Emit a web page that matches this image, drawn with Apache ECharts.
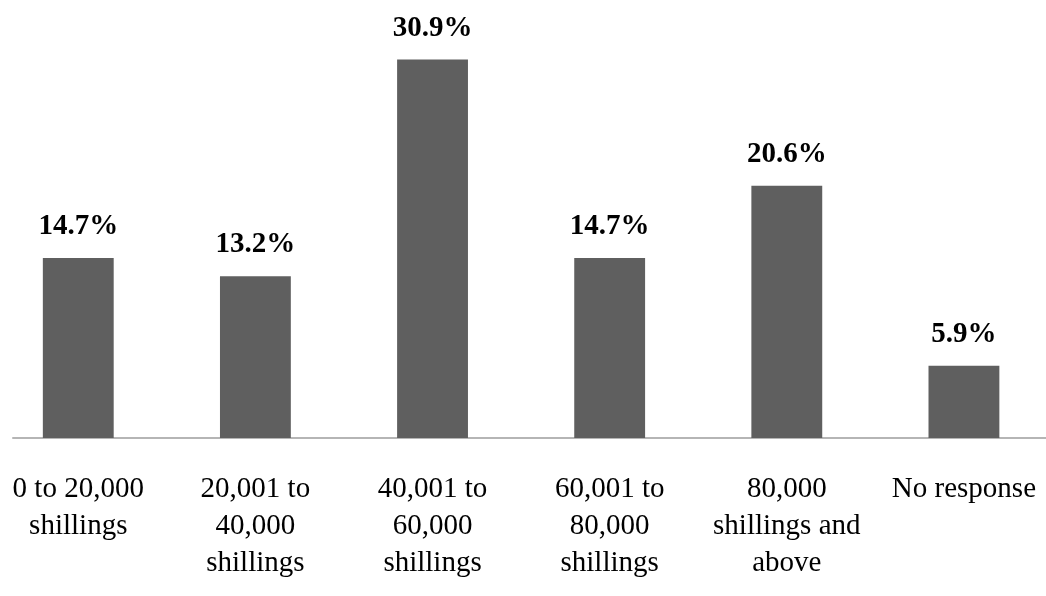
<!DOCTYPE html>
<html>
<head>
<meta charset="utf-8">
<script src="https://cdn.jsdelivr.net/npm/echarts@6/dist/echarts.min.js"></script>
<style>
html,body{margin:0;padding:0;background:#fff;}
#chart{width:1046px;height:596px;}
</style>
</head>
<body>
<div id="chart"></div>
<script>
const categories = ["0 to 20,000 shillings", "20,001 to 40,000 shillings", "40,001 to 60,000 shillings", "60,001 to 80,000 shillings", "80,000 shillings and above", "No response"];
const tickLabels = ["0 to 20,000\nshillings", "20,001 to\n40,000\nshillings", "40,001 to\n60,000\nshillings", "60,001 to\n80,000\nshillings", "80,000\nshillings and\nabove", "No response"];
const percentages = [14.7, 13.2, 30.9, 14.7, 20.6, 5.9];

const chart = echarts.init(document.getElementById('chart'));
chart.setOption({
  animation: false,
  backgroundColor: '#ffffff',
  grid: [
    { left: -10.3, right: -6.5, top: 9.4, bottom: 158, containLabel: false, outerBoundsMode: 'none' },
    { left: 13, right: 0, top: 9.4, bottom: 158, outerBoundsMode: 'none' }
  ],
  xAxis: [
    {
      type: 'category',
      gridIndex: 0,
      data: categories,
      axisLine: { show: false },
      axisTick: { show: false },
      axisLabel: {
        interval: 0,
        margin: 33,
        fontFamily: 'Liberation Serif',
        fontSize: 29,
        lineHeight: 37,
        color: '#000',
        formatter: function (v, i) { return tickLabels[i]; }
      }
    },
    {
      type: 'category',
      gridIndex: 1,
      data: [''],
      axisLine: { show: true, lineStyle: { color: '#b5b5b5', width: 2 } },
      axisTick: { show: false },
      axisLabel: { show: false }
    }
  ],
  yAxis: [
    { type: 'value', gridIndex: 0, min: 0, max: 35, show: false, splitLine: { show: false } },
    { type: 'value', gridIndex: 1, min: 0, max: 35, show: false, splitLine: { show: false } }
  ],
  series: [{
    type: 'bar',
    xAxisIndex: 0,
    yAxisIndex: 0,
    data: percentages,
    barWidth: '40%',
    itemStyle: { color: '#5f5f5f' },
    label: {
      show: true,
      position: 'top',
      distance: 17,
      fontFamily: 'Liberation Serif',
      fontWeight: 'bold',
      fontSize: 29,
      color: '#000',
      formatter: function (p) { return p.value.toFixed(1) + '%'; }
    }
  }]
});
</script>
</body>
</html>
